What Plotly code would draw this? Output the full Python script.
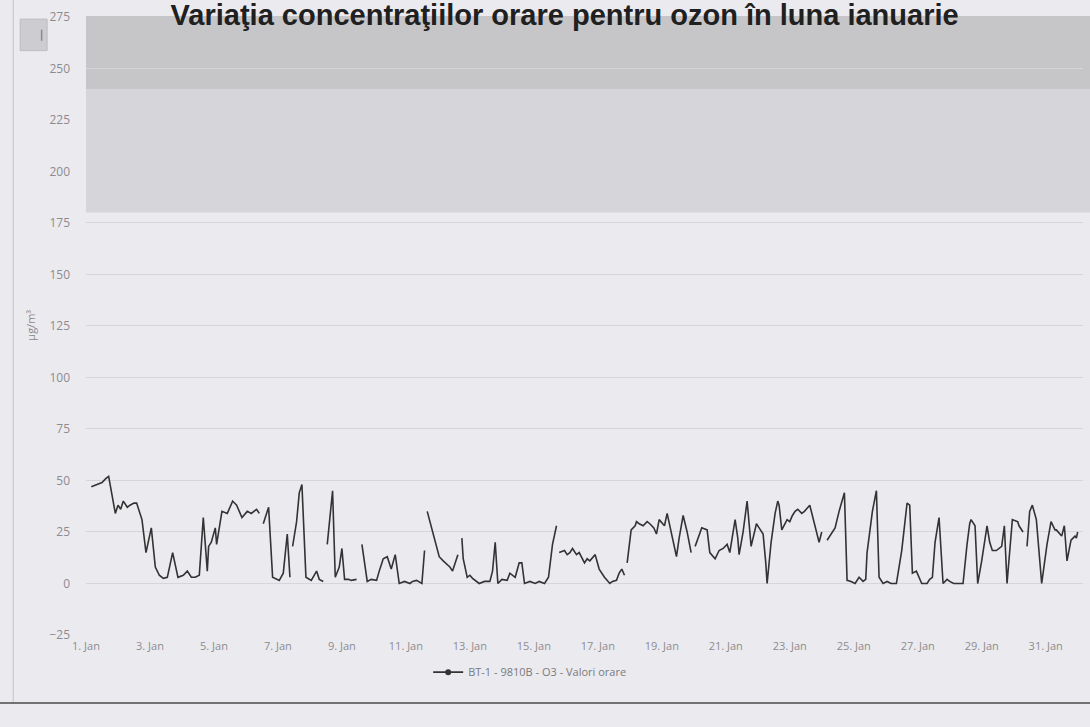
import plotly.graph_objects as go
import pandas as pd

# hourly ozone values (ug/m3); None = missing hour (gap)
hours = [
    4, 8, 12, 15, 17, 22, 24, 26, 28, 31, 33, 36, 38, 42, 45, 49, 52, 55, 58, 61,
    65, 69, 73, 76, 79, 82, 85, 88, 91, 92, 94, 97, 98, 102, 106, 110, 113, 117, 121, 124,
    128, 130, 131, 133, 137, 140, 143, 145, 148, 151, 153, 154, 155, 158, 160, 162, 165, 169, 173, 175,
    178, 179, 181, 185, 187, 190, 192, 194, 197, 199, 203, 204, 207, 209, 211, 214, 218, 220, 223, 226,
    229, 232, 235, 239, 243, 245, 248, 252, 254, 255, 256, 258, 260, 263, 265, 268, 271, 273, 275, 277,
    279, 280, 282, 283, 286, 288, 290, 293, 295, 299, 303, 305, 307, 309, 312, 316, 318, 322, 324, 325,
    327, 329, 333, 337, 340, 344, 347, 350, 353, 354, 355, 359, 361, 363, 365, 368, 370, 374, 376, 378,
    382, 385, 389, 393, 395, 398, 400, 402, 404, 405, 406, 409, 412, 413, 415, 418, 421, 423, 426, 428,
    430, 434, 436, 439, 443, 445, 448, 451, 454, 455, 457, 460, 462, 466, 468, 472, 475, 478, 481, 483,
    487, 489, 490, 493, 496, 499, 503, 505, 508, 510, 511, 514, 517, 519, 520, 522, 526, 528, 530, 532,
    534, 537, 539, 543, 546, 549, 550, 552, 554, 556, 559, 562, 565, 569, 571, 574, 577, 580, 583, 585,
    586, 590, 593, 595, 598, 601, 604, 608, 612, 616, 618, 620, 623, 625, 627, 631, 633, 635, 637, 640,
    643, 646, 648, 651, 653, 658, 661, 663, 664, 667, 669, 672, 676, 678, 680, 683, 687, 689, 691, 695,
    699, 700, 703, 704, 706, 708, 710, 713, 717, 721, 724, 727, 728, 732, 734, 736, 739, 742, 743, 744,
]
o3 = [
    47, 48, 49, 51, 52, 34, 38, 36, 40, 37, 38, 39, 39, 31, 15, 27, 8, 4, 2.5, 3,
    15, 3, 4, 6, 3, 3, 4, 32, 6, 18, 20, 27, 19, 35, 34, 40, 38, 32, 35, 34,
    36, 34, None, 29, 37, 3, 2, 1.5, 5, 24, 3, None, 18, 30, 44, 48, 3, 1.5, 6, 2,
    1, None, 19, 45, 3, 8, 17, 2, 2, 1.5, 2, None, 19, 11, 1, 2, 1.5, 6, 12, 13,
    7, 14, 0, 1, 0, 1, 1.5, 0, 16, None, 35, 30, 25, 18, 13, 11, 9, 8, 6, 10,
    14, None, 22, 12, 3, 4, 2.5, 1, 0, 1, 1, 6, 20, 0, 2, 1.5, 5, 3, 7, 10,
    10, 0, 1, 0, 1, 0, 3, 19, 28, None, 15, 16, 14, 15, 17, 14, 15, 10, 12, 11,
    14, 7, 3, 0, 1, 1.5, 5, 7, 4, None, 10, 26, 28, 30, 29, 28, 30, 29, 27, 24,
    31, 28, 34, 25, 13, 22, 33, 25, 15, None, 18, 24, 27, 26, 15, 12, 16, 17, 19, 15,
    31, 22, 14, 25, 40, 18, 29, 27, 24, 10, 0, 20, 34, 40, 38, 26, 31, 30, 33, 35,
    36, 34, 35, 38, 30, 22, 20, 25, None, 21, 24, 27, 35, 44, 1.5, 1, 0, 3, 1, 2,
    15, 35, 45, 3, 0, 1, 0, 0, 16, 39, 38, 5, 6, 3, 0, 0, 2, 3, 20, 32,
    0, 2, 1, 0, 0, 0, 19, 29, 31, 28, 0, 11, 28, 20, 16, 16, 18, 28, 0, 31,
    30, 28, 25, None, 18, 35, 38, 31, 0, 19, 30, 26, 26, 23, 28, 11, 21, 23, 22, 25,
]

y_ticks = [-25, 0, 25, 50, 75, 100, 125, 150, 175, 200, 225, 250, 275]
x_tick_days = [1, 3, 5, 7, 9, 11, 13, 15, 17, 19, 21, 23, 25, 27, 29, 31]
x_tick_labels = [f"{d}. Jan" for d in x_tick_days]

# plot bands: information threshold 180, alert threshold 240
band_info = [180, 240]
band_alert = [240, 275]

base = pd.Timestamp("2015-01-01")
times = base + pd.to_timedelta(hours, unit="h")
tick_times = [base + pd.Timedelta(days=d - 1) for d in x_tick_days]

line_col = "#333333"
label_col = "#8c8c90"

fig = go.Figure()

fig.add_trace(go.Scatter(
    x=times, y=o3,
    mode="lines",
    line=dict(color=line_col, width=1.6),
    showlegend=False,
    connectgaps=False,
))

# legend entry (Highcharts style: line with marker)
fig.add_trace(go.Scatter(
    x=[None], y=[None],
    mode="lines+markers",
    line=dict(color=line_col, width=1.6),
    marker=dict(color=line_col, size=6),
    name="BT-1 - 9810B - O3 - Valori orare",
))

shapes = [
    dict(type="rect", xref="paper", yref="y", x0=0, x1=1.01,
         y0=band_info[0], y1=band_info[1], fillcolor="#d6d5d9", line_width=0, layer="below"),
    dict(type="rect", xref="paper", yref="y", x0=0, x1=1.01,
         y0=band_alert[0], y1=band_alert[1] + 2, fillcolor="#c6c5c8", line_width=0, layer="below"),
    # export button
    dict(type="rect", xref="paper", yref="paper", x0=-0.066, x1=-0.039, y0=0.944, y1=0.995,
         fillcolor="#cdccd0", line=dict(color="#bdbcc0", width=1)),
    dict(type="line", xref="paper", yref="paper", x0=-0.0445, x1=-0.0445, y0=0.96, y1=0.978,
         line=dict(color="#8a8a8e", width=1.5)),
    # chart frame
    dict(type="line", xref="paper", yref="paper", x0=-0.073, x1=-0.073, y0=-0.11, y1=1.03,
         line=dict(color="#c4c3c8", width=1)),
    dict(type="line", xref="paper", yref="paper", x0=-0.09, x1=1.01, y0=-0.11, y1=-0.11,
         line=dict(color="#4a4a4a", width=1.5)),
]

fig.update_layout(
    width=1090, height=727,
    margin=dict(l=86, r=7, t=16, b=92, autoexpand=False),
    paper_bgcolor="#ebeaef",
    plot_bgcolor="#ebeaef",
    shapes=shapes,
    title=dict(
        text="<b>Variaţia concentraţiilor orare pentru ozon în luna ianuarie</b>",
        font=dict(family="Liberation Sans", size=29, color="#202020"),
        xref="container", x=0.518, xanchor="center",
        yref="container", y=0.994, yanchor="top",
    ),
    legend=dict(
        orientation="h", x=0.445, xanchor="center", y=-0.06, yanchor="middle",
        font=dict(family="Open Sans", size=11, color="#7a7a7e"),
        bgcolor="rgba(0,0,0,0)",
    ),
    font=dict(family="Open Sans", color=label_col),
)

fig.update_xaxes(
    range=[base, base + pd.Timedelta(hours=748)],
    tickvals=tick_times, ticktext=x_tick_labels,
    tickfont=dict(size=11, color=label_col),
    showgrid=False, zeroline=False, showline=False,
    ticks="", ticklabelstandoff=3,
)

fig.update_yaxes(
    range=[-25, 275.4],
    tickvals=y_ticks,
    tickfont=dict(size=12, color=label_col),
    showgrid=True, gridcolor="#d6d5db", gridwidth=1,
    zeroline=False, showline=False, ticks="",
    ticklabelstandoff=15,
)

fig.add_annotation(
    text="µg/m³", xref="paper", yref="paper", x=-0.056, y=0.5,
    xanchor="center", textangle=-90, showarrow=False,
    font=dict(family="Open Sans", size=11, color=label_col),
)

# drop the default 8px body margin so the figure fills the window
fig.write_html(
    "out.html",
    config={"displayModeBar": False},
    post_script="document.body.style.margin='0';",
)
